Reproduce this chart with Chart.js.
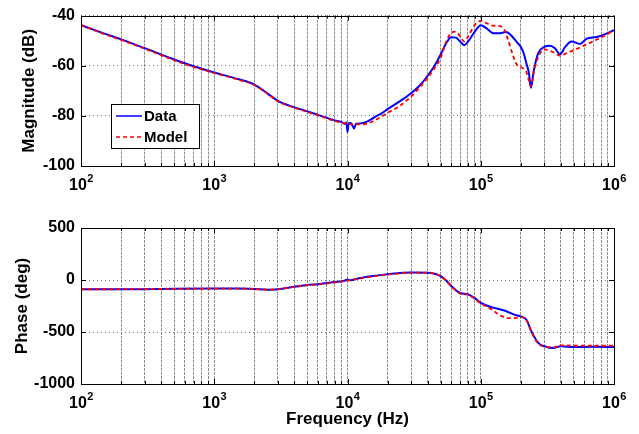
<!DOCTYPE html>
<html>
<head>
<meta charset="utf-8">
<script src="https://cdn.jsdelivr.net/npm/chart.js@4/dist/chart.umd.min.js"></script>
<style>
  html, body { margin: 0; padding: 0; background: #fff; }
  #wrap { position: relative; width: 639px; height: 434px; }
  canvas { position: absolute; left: 0; }
  #c1 { top: 0; }
  #c2 { top: 200px; }
</style>
</head>
<body>
<div id="wrap">
  <canvas id="c1" width="639" height="200"></canvas>
  <canvas id="c2" width="639" height="234"></canvas>
</div>
<script>
// ---------- data ----------
const decadeTicks = [1e2, 1e3, 1e4, 1e5, 1e6];
const decadeExponents = ['2', '3', '4', '5', '6'];
const magTicks = [-100, -80, -60, -40];
const phaseTicks = [-1000, -500, 0, 500];
const seriesNames = ['Data', 'Model'];

const magFreqData = [100,150,200,300,500,700,1000,1500,2000,2500,3000,4000,5000,6000,7000,8000,9000,9500,9800,10000,10200,10600,11200,11600,12500,14000,16000,18000,20000,25000,30000,35000,40000,45000,50000,55000,60000,65000,70000,75000,80000,90000,100000,110000,124000,140000,155000,170000,186000,200000,210000,220000,230000,238000,250000,270000,300000,330000,360000,393000,430000,480000,556000,624000,740000,850000,1000000];
const magData = [-43.8,-47.2,-49.5,-53,-57.5,-60.2,-62.7,-65.3,-67.5,-71,-74,-76.6,-78.2,-79.6,-80.8,-81.8,-82.4,-83.2,-82.6,-86.5,-82.9,-82.8,-85,-83.1,-83,-82.3,-80.5,-79,-77.3,-74,-71,-67.8,-64,-60,-55.5,-51,-48.6,-48.8,-50.3,-51.8,-50.5,-46.5,-43.8,-45,-47,-47,-46.5,-48,-50.5,-52.5,-55,-59,-63,-68.8,-62,-55,-52.5,-52,-53,-55.4,-52.5,-50.3,-51.3,-49.2,-48.5,-47.5,-45.8];

const magFreqModel = [100,150,200,300,500,700,1000,1500,2000,2500,3000,4000,5000,6000,7000,8000,9000,10000,12000,14000,16000,20000,25000,30000,35000,40000,45000,50000,55000,60000,65000,70000,75000,80000,90000,100000,110000,124000,140000,150000,160000,170000,186000,200000,210000,220000,230000,238000,250000,270000,300000,330000,360000,393000,450000,500000,600000,700000,850000,1000000];
const magModel = [-43.8,-47.4,-49.7,-53.2,-57.8,-60.5,-62.9,-65.5,-67.7,-71,-74.2,-76.8,-78.4,-79.8,-81,-82,-82.7,-83.2,-83.4,-83.1,-81.8,-78.8,-75.8,-72.3,-68.5,-64.8,-61,-56.8,-50.5,-46.8,-46.4,-48.3,-50.3,-48.5,-43.8,-42.1,-43,-44,-44.2,-45.5,-49.5,-54,-59.5,-60.5,-61.2,-62.5,-66,-68.2,-62.5,-56.5,-53.5,-54,-55,-56,-54.8,-53.8,-51.9,-50.2,-48,-45.8];

const phaseFreqData = [100,300,1000,1500,2000,2500,3000,4000,5000,6000,8000,9500,10000,10500,12000,15000,20000,30000,40000,45000,50000,55000,60000,70000,80000,90000,100000,120000,150000,180000,200000,220000,240000,270000,300000,350000,400000,500000,700000,1000000];
const phaseData = [-89,-88,-82,-82,-86,-93,-88,-65,-48,-40,-20,-8,5,-2,15,35,55,72,70,60,38,-5,-57,-125,-137,-175,-220,-261,-293,-335,-350,-382,-494,-605,-637,-655,-637,-645,-643,-645];

const phaseFreqModel = [100,300,1000,1500,2000,2500,3000,4000,5000,6000,8000,10000,12000,15000,20000,30000,40000,45000,50000,55000,60000,70000,80000,90000,100000,120000,140000,160000,180000,200000,220000,240000,270000,300000,350000,400000,500000,700000,1000000];
const phaseModel = [-89,-88,-82,-82,-86,-93,-88,-67,-50,-42,-24,-5,12,30,52,70,70,60,38,-5,-57,-130,-140,-180,-225,-280,-340,-366,-366,-357,-380,-500,-610,-640,-648,-628,-632,-632,-632];

// ---------- helpers ----------
const FONT = '"Liberation Sans", Arial, Helvetica, sans-serif';
function pts(xs, ys) { return xs.map((x, i) => ({ x: x, y: ys[i] })); }
function allLogTicks() {
  const t = [];
  for (let e = 2; e < 6; e++) for (let m = 1; m < 10; m++) t.push(m * Math.pow(10, e));
  t.push(1e6);
  return t;
}

const decorPlugin = {
  id: 'decor',
  afterDraw(chart, args, o) {
    const ctx = chart.ctx, a = chart.chartArea;
    const xs = chart.scales.x, ys = chart.scales.y;
    ctx.save();
    // frame
    ctx.strokeStyle = '#000';
    ctx.lineWidth = 1;
    ctx.strokeRect(Math.round(a.left) + 0.5, Math.round(a.top) + 0.5,
                   Math.round(a.right - a.left), Math.round(a.bottom - a.top));
    // x tick marks
    allLogTicks().forEach(v => {
      const px = Math.round(xs.getPixelForValue(v)) + 0.5;
      const major = decadeTicks.includes(v);
      const len = major ? 5 : 3;
      ctx.beginPath();
      ctx.moveTo(px, a.bottom); ctx.lineTo(px, a.bottom - len);
      ctx.moveTo(px, a.top); ctx.lineTo(px, a.top + len);
      ctx.stroke();
    });
    // y tick marks
    o.yTicks.forEach(v => {
      const py = Math.round(ys.getPixelForValue(v)) + 0.5;
      ctx.beginPath();
      ctx.moveTo(a.left, py); ctx.lineTo(a.left + 5, py);
      ctx.moveTo(a.right, py); ctx.lineTo(a.right - 5, py);
      ctx.stroke();
    });
    // x tick labels 10^n
    ctx.fillStyle = '#000';
    ctx.textBaseline = 'alphabetic';
    decadeTicks.forEach((v, i) => {
      const px = xs.getPixelForValue(v);
      ctx.font = 'bold 16px ' + FONT;
      const w1 = ctx.measureText('10').width;
      ctx.font = 'bold 11px ' + FONT;
      const w2 = ctx.measureText(decadeExponents[i]).width;
      const x0 = px - (w1 + w2) / 2;
      ctx.font = 'bold 16px ' + FONT;
      ctx.textAlign = 'left';
      ctx.fillText('10', x0, a.bottom + 24);
      ctx.font = 'bold 11px ' + FONT;
      ctx.fillText(decadeExponents[i], x0 + w1 + 0.5, a.bottom + 16);
    });
    // y title
    ctx.font = 'bold 17px ' + FONT;
    ctx.textAlign = 'center';
    ctx.textBaseline = 'middle';
    ctx.translate(o.yTitleX, (a.top + a.bottom) / 2);
    ctx.rotate(-Math.PI / 2);
    ctx.fillText(o.yTitle, 0, 0);
    ctx.restore();
    // x title
    if (o.xTitle) {
      ctx.save();
      ctx.font = 'bold 17px ' + FONT;
      ctx.textAlign = 'center';
      ctx.textBaseline = 'alphabetic';
      ctx.fillStyle = '#000';
      ctx.fillText(o.xTitle, (a.left + a.right) / 2, a.bottom + 40);
      ctx.restore();
    }
    // legend
    if (o.legend) {
      const L = o.legend;
      ctx.save();
      ctx.fillStyle = '#fff';
      ctx.fillRect(L.x, L.y, L.w, L.h);
      ctx.strokeStyle = '#000';
      ctx.lineWidth = 1;
      ctx.strokeRect(L.x + 0.5, L.y + 0.5, L.w, L.h);
      const ds = chart.data.datasets;
      ds.forEach((d, i) => {
        const yy = L.y + 12 + i * 21;
        ctx.strokeStyle = d.borderColor;
        ctx.lineWidth = 1.5;
        ctx.setLineDash(d.borderDash || []);
        ctx.beginPath();
        ctx.moveTo(L.x + 5, yy); ctx.lineTo(L.x + 31, yy);
        ctx.stroke();
        ctx.setLineDash([]);
        ctx.fillStyle = '#000';
        ctx.font = 'bold 15px ' + FONT;
        ctx.textAlign = 'left';
        ctx.textBaseline = 'middle';
        ctx.fillText(d.label, L.x + 33, yy + 1);
      });
      ctx.restore();
    }
  }
};

function makePlot(id, cfg) {
  return new Chart(document.getElementById(id), {
    type: 'line',
    data: {
      datasets: [
        { label: seriesNames[0], data: pts(cfg.fx1, cfg.y1), borderColor: '#0000ff', borderWidth: 2,
          pointRadius: 0, cubicInterpolationMode: 'monotone', fill: false, order: 2 },
        { label: seriesNames[1], data: pts(cfg.fx2, cfg.y2), borderColor: '#ff0000', borderWidth: 1.8,
          borderDash: [4, 3], pointRadius: 0, cubicInterpolationMode: 'monotone', fill: false, order: 1 }
      ]
    },
    options: {
      responsive: false,
      animation: false,
      devicePixelRatio: 1,
      layout: { padding: { top: cfg.padTop, right: 25, left: 0, bottom: 0 } },
      plugins: {
        legend: { display: false },
        tooltip: { enabled: false },
        decor: { yTitle: cfg.yTitle, yTitleX: cfg.yTitleX, xTitle: cfg.xTitle, yTicks: cfg.yTicks, legend: cfg.legend }
      },
      scales: {
        x: {
          type: 'logarithmic', min: 100, max: 1e6,
          afterBuildTicks: s => { s.ticks = allLogTicks().map(v => ({ value: v })); },
          afterFit: s => { s.height = cfg.xHeight; },
          ticks: { display: false },
          grid: { color: '#8f8f8f', lineWidth: 1, drawTicks: false },
          border: { display: false, dash: [3, 1] }
        },
        y: {
          type: 'linear', min: cfg.yTicks[0], max: cfg.yTicks[cfg.yTicks.length - 1],
          afterBuildTicks: s => { s.ticks = cfg.yTicks.map(v => ({ value: v })); },
          afterFit: s => { s.width = 81; },
          ticks: { color: '#000', font: { family: FONT, size: 16, weight: 'bold' }, padding: 6,
                   callback: v => String(v) },
          grid: { color: '#7a7a7a', lineWidth: 1, drawTicks: false },
          border: { display: false, dash: [1, 3] }
        }
      }
    },
    plugins: [decorPlugin]
  });
}

makePlot('c1', {
  fx1: magFreqData, y1: magData, fx2: magFreqModel, y2: magModel,
  yTicks: magTicks, padTop: 10, xHeight: 34,
  yTitle: 'Magnitude (dB)', yTitleX: 29,
  legend: { x: 111, y: 104, w: 88, h: 44 }
});
makePlot('c2', {
  fx1: phaseFreqData, y1: phaseData, fx2: phaseFreqModel, y2: phaseModel,
  yTicks: phaseTicks, padTop: 28, xHeight: 50,
  yTitle: 'Phase (deg)', yTitleX: 22, xTitle: 'Frequency (Hz)'
});
</script>
</body>
</html>
